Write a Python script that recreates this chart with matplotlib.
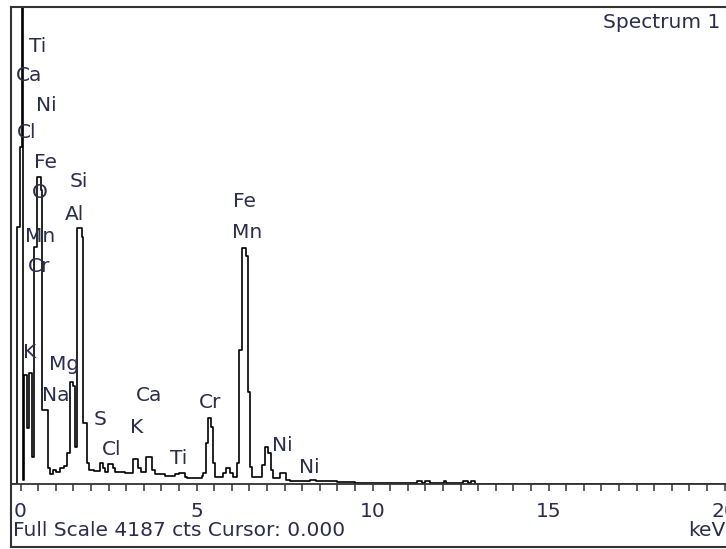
import matplotlib
matplotlib.use("Agg")
import matplotlib.pyplot as plt
from matplotlib.lines import Line2D

# spectrum as steps: energy where each level starts (keV), counts
energy = [-0.28, -0.09, -0.01, 0.03, 0.08, 0.10, 0.18, 0.25, 0.32, 0.37,
          0.48, 0.57, 0.60, 0.79, 0.84, 0.92, 1.01, 1.12, 1.24, 1.32,
          1.41, 1.49, 1.54, 1.61, 1.74, 1.78, 1.88, 1.95, 2.08, 2.26,
          2.34, 2.40, 2.49, 2.63, 2.69, 2.97, 3.20, 3.34, 3.42, 3.57,
          3.74, 3.82, 4.10, 4.39, 4.50, 4.67, 4.73, 5.16, 5.19, 5.26,
          5.34, 5.40, 5.46, 5.53, 5.76, 5.84, 5.95, 6.03, 6.16, 6.22,
          6.28, 6.40, 6.47, 6.52, 6.57, 6.85, 6.95, 7.02, 7.11, 7.18,
          7.37, 7.54, 7.66, 8.22, 8.40, 8.99, 9.50, 11.26, 11.40, 11.50,
          11.63, 12.03, 12.10, 12.57, 12.70, 12.80, 12.91, 20.2]
counts = [0, 2256, 2959, 6000, 35, 957, 492, 975, 237, 2081,
          2695, 2581, 650, 140, 88, 123, 105, 140, 158, 272,
          896, 860, 325, 2248, 2169, 536, 184, 123, 115, 184,
          140, 105, 175, 140, 105, 97, 220, 140, 105, 237,
          123, 88, 70, 88, 97, 61, 53, 70, 97, 360,
          579, 500, 184, 61, 97, 140, 97, 61, 184, 1177,
          2072, 2002, 808, 149, 61, 167, 325, 272, 123, 53,
          97, 35, 26, 35, 22, 18, 13, 22, 13, 22,
          13, 22, 13, 22, 13, 22, 0, 0]

# element markers: text, energy (keV), height (cts)
label_text = ["Ti", "Ca", "Ni", "Cl", "Fe", "O", "Si", "Al", "Mn", "Cr",
              "K", "Mg", "Na", "S", "Cl", "Ca", "K", "Ti", "Cr", "Fe",
              "Mn", "Ni", "Ni"]
label_kev = [0.50, 0.24, 0.72, 0.16, 0.70, 0.54, 1.66, 1.53, 0.55, 0.54,
             0.26, 1.24, 1.01, 2.26, 2.59, 3.65, 3.30, 4.50, 5.38, 6.35,
             6.45, 7.44, 8.20]
label_cts = [3837, 3582, 3319, 3082, 2818, 2555, 2652, 2362, 2169, 1905,
             1150, 1045, 781, 562, 299, 781, 500, 228, 711, 2476,
             2204, 342, 149]

tick_major = [0, 5, 10, 15, 20]
tick_minor = [i * 0.5 for i in range(41)]
full_scale = 4187

W, H = 726, 549
txt = "#2b2d4f"
fs = 14.5
plt.rcParams["font.family"] = "DejaVu Sans"

fig = plt.figure(figsize=(W / 100, H / 100), dpi=100)
ax = fig.add_axes([11 / W, (H - 484) / H, (W - 11) / W, 477 / H])

ax.step(energy, counts, where="post", color="black", linewidth=1.2)
ax.set_xlim(-0.27, 20.04)
ax.set_ylim(0, full_scale)

for t, e, c in zip(label_text, label_kev, label_cts):
    ax.text(e, c, t, ha="center", va="center", fontsize=fs, color=txt)

for side in ["left", "right", "top"]:
    ax.spines[side].set_visible(False)
ax.spines["bottom"].set_color("#333333")
ax.spines["bottom"].set_linewidth(1.3)
ax.set_yticks([])
ax.set_xticks(tick_major)
ax.set_xticklabels([str(v) for v in tick_major])
ax.set_xticks(tick_minor, minor=True)
ax.tick_params(axis="x", which="both", direction="out", length=5,
               width=1.1, color="#333333")
ax.tick_params(axis="x", which="major", pad=8, labelsize=fs, labelcolor=txt)

# outer frame (right side is cut off in the reference)
fx = lambda px: px / W
fy = lambda py: 1 - py / H
for xs, ys in [([11, 11], [7, 547]), ([11, W], [7, 7]), ([11, W], [547, 547])]:
    fig.add_artist(Line2D([fx(v) for v in xs], [fy(v) for v in ys],
                          color="#333333", linewidth=1.5))

fig.text(fx(720), fy(22), "Spectrum 1", ha="right", va="center",
         fontsize=fs, color=txt)
fig.text(fx(13), fy(531), f"Full Scale {full_scale} cts Cursor: 0.000",
         ha="left", va="center", fontsize=fs, color=txt)
fig.text(fx(688), fy(531), "keV", ha="left", va="center",
         fontsize=fs, color=txt)

fig.savefig("out.png", dpi=100)
